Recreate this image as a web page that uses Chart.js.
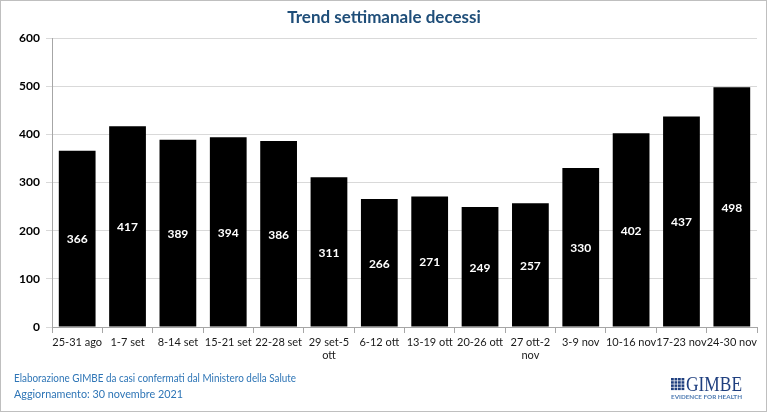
<!DOCTYPE html>
<html><head><meta charset="utf-8">
<script src="https://cdn.jsdelivr.net/npm/chart.js@4/dist/chart.umd.min.js"></script>
<style>html,body{margin:0;padding:0;background:#fff}#wrap{width:767px;height:412px;position:relative}</style>
</head><body><div id="wrap"><canvas id="c" width="767" height="412"></canvas></div>
<script>
const categories = ["25-31 ago","1-7 set","8-14 set","15-21 set","22-28 set",["29 set-5","ott"],"6-12 ott","13-19 ott","20-26 ott",["27 ott-2","nov"],"3-9 nov","10-16 nov","17-23 nov","24-30 nov"];
const deaths = [366,417,389,394,386,311,266,271,249,257,330,402,437,498];
const yTicks = [0,100,200,300,400,500,600];
const titleText = "Trend settimanale decessi";
const footerLines = ["Elaborazione GIMBE da casi confermati dal Ministero della Salute","Aggiornamento: 30 novembre 2021"];
const FONT = "Lato, 'Open Sans', sans-serif";

function fitText(ctx, txt, x, y, w){
  const m = ctx.measureText(txt).width;
  ctx.save(); ctx.translate(x,y); ctx.scale(w/m,1); ctx.fillText(txt,0,0); ctx.restore();
}

const deco = {
  id:'deco',
  afterDatasetsDraw(chart){
    const ctx = chart.ctx;
    const meta = chart.getDatasetMeta(0);
    ctx.save();
    ctx.fillStyle = '#fff';
    ctx.font = "bold 12px " + FONT;
    ctx.textAlign = 'center'; ctx.textBaseline = 'middle';
    meta.data.forEach((bar,i)=>{
      ctx.fillText(String(deaths[i]), bar.x, (bar.y + bar.base)/2 + 1);
    });
    ctx.restore();
  },
  afterDraw(chart){
    const ctx = chart.ctx;
    ctx.save();
    ctx.fillStyle = '#1F4E79';
    ctx.font = "bold 17px " + FONT;
    ctx.textAlign='center'; ctx.textBaseline='middle';
    ctx.fillText(titleText, 384, 18);
    ctx.fillStyle = '#2E75B6';
    ctx.font = "11px " + FONT;
    ctx.textAlign='left';
    fitText(ctx, footerLines[0], 14, 378, 282);
    fitText(ctx, footerLines[1], 14, 394, 169);
    // logo
    ctx.fillStyle = '#1F3F7F';
    const gx=671, gy=378;
    for(let r=0;r<4;r++)for(let c=0;c<4;c++){
      ctx.fillRect(gx+c*3.5, gy+r*3.2, 2.8, 2.5);
    }
    ctx.font = "21px 'Liberation Serif', serif";
    ctx.textBaseline='alphabetic';
    fitText(ctx, "GIMBE", 686, 391, 56);
    ctx.font = "bold 5px " + FONT;
    ctx.fillStyle = '#4A78B0';
    fitText(ctx, "EVIDENCE FOR HEALTH", 671, 399, 71);
    ctx.strokeStyle = '#bfbfbf'; ctx.lineWidth = 1;
    ctx.strokeRect(0.5,0.5,766,411);
    ctx.restore();
  }
};

new Chart(document.getElementById('c'), {
  type:'bar',
  data:{labels:categories, datasets:[{data:deaths, backgroundColor:'#000', borderWidth:0, barPercentage:0.73, categoryPercentage:1}]},
  options:{
    responsive:false, animation:false, devicePixelRatio:1,
    layout:{padding:{top:38,right:10,left:0,bottom:0}},
    plugins:{legend:{display:false}, title:{display:false}, tooltip:{enabled:false}},
    scales:{
      x:{
        grid:{drawOnChartArea:false, drawTicks:true, tickLength:6, color:'#a6a6a6', offset:true},
        border:{color:'#a6a6a6'},
        ticks:{color:'#1a1a1a', font:{family:FONT, size:11}, maxRotation:0, minRotation:0, autoSkip:false, padding:3},
        afterFit(s){ s.height = 85; }
      },
      y:{
        min:0, max:600,
        afterBuildTicks(s){ s.ticks = yTicks.map(v=>({value:v})); },
        grid:{color:'#d9d9d9', tickLength:6, drawTicks:true},
        border:{color:'#a6a6a6'},
        ticks:{color:'#000', font:{family:FONT, size:12, weight:'bold'}, padding:6},
        afterFit(s){ s.width = 52; }
      }
    }
  },
  plugins:[deco]
});
</script></body></html>
